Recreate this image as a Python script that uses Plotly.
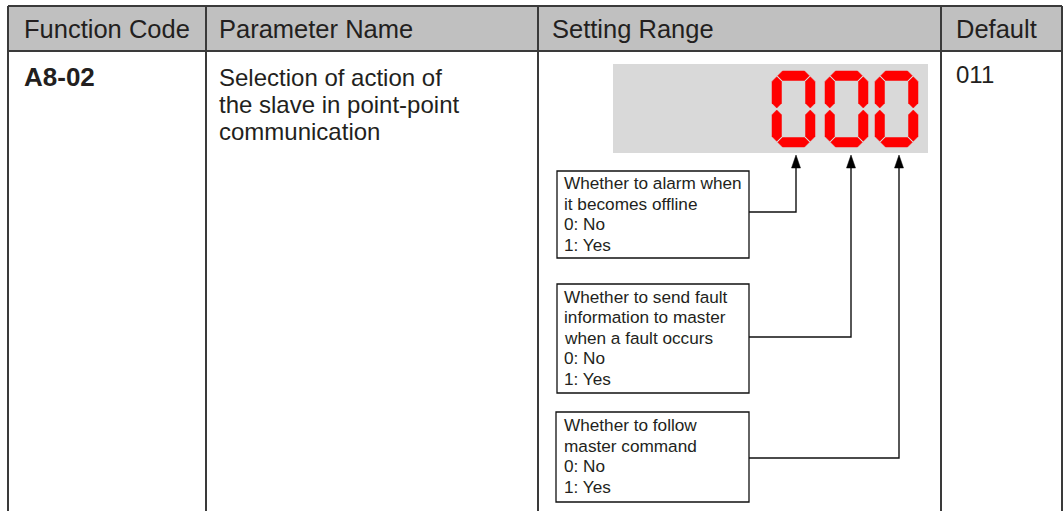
import plotly.graph_objects as go

W, H = 1063, 511

# ---- content ----
headers = ["Function Code", "Parameter Name", "Setting Range", "Default"]
function_code = "A8-02"
param_name_lines = ["Selection of action of", "the slave in point-point", "communication"]
default_value = "011"
display_digits = "000"
box_texts = [
    ["Whether to alarm when", "it becomes offline", "0: No", "1: Yes"],
    ["Whether to send fault", "information to master", "when a fault occurs", "0: No", "1: Yes"],
    ["Whether to follow", "master command", "0: No", "1: Yes"],
]

# ---- layout geometry (styles) ----
col_x = [8, 206, 538, 941, 1062]
top_y, head_y = 6, 51
line_col = "#3a3a3a"
text_col = "#231f20"
font = "Liberation Sans, Arial, sans-serif"

shapes = []
ann = []

# header fill
shapes.append(dict(type="rect", x0=col_x[0], x1=col_x[-1], y0=top_y, y1=head_y,
                   fillcolor="#c0c0c0", line_width=0, layer="below"))
# horizontal lines
for y in (top_y, head_y):
    shapes.append(dict(type="line", x0=col_x[0], x1=col_x[-1], y0=y, y1=y,
                       line=dict(color=line_col, width=2)))
# vertical lines
for x in col_x:
    shapes.append(dict(type="line", x0=x, x1=x, y0=top_y, y1=H + 5,
                       line=dict(color=line_col, width=2)))

# header texts
head_tx = [22, 217, 550, 954]
for t, x in zip(headers, head_tx):
    ann.append(dict(x=x, y=29, text=t, xanchor="left", yanchor="middle",
                    font=dict(size=25.5, color=text_col, family=font)))

ann.append(dict(x=22, y=77, text="<b>%s</b>" % function_code, xanchor="left", yanchor="middle",
                font=dict(size=26, color=text_col, family=font)))
for i, t in enumerate(param_name_lines):
    ann.append(dict(x=217, y=77 + 27 * i, text=t, xanchor="left", yanchor="middle",
                    font=dict(size=24, color=text_col, family=font)))
ann.append(dict(x=954, y=74, text=default_value, xanchor="left", yanchor="middle",
                font=dict(size=24, color=text_col, family=font)))

# display panel
shapes.append(dict(type="rect", x0=613, x1=928, y0=64, y1=153,
                   fillcolor="#d9d9d9", line_width=0, layer="below"))

# seven-seg digits
SEG = {"0": "abcdef", "1": "bc", "2": "abged", "3": "abgcd", "4": "fgbc",
       "5": "afgcd", "6": "afgedc", "7": "abc", "8": "abcdefg", "9": "abcdfg"}
digit_x0 = [772, 825, 875]
dw, y0d, y1d, t, g = 43, 71, 147, 9.5, 1.0


def hseg(xa, xb, y):
    h = t / 2
    return (f"M{xa+g},{y} L{xa+g+h},{y-h} L{xb-g-h},{y-h} L{xb-g},{y} "
            f"L{xb-g-h},{y+h} L{xa+g+h},{y+h} Z")


def vseg(x, ya, yb):
    h = t / 2
    return (f"M{x},{ya+g} L{x+h},{ya+g+h} L{x+h},{yb-g-h} L{x},{yb-g} "
            f"L{x-h},{yb-g-h} L{x-h},{ya+g+h} Z")


for ch, x0 in zip(display_digits, digit_x0):
    x1 = x0 + dw
    xl, xr = x0 + t / 2, x1 - t / 2
    yt, ym, yb = y0d + t / 2, (y0d + y1d) / 2, y1d - t / 2
    segs = {"a": hseg(xl, xr, yt), "g": hseg(xl, xr, ym), "d": hseg(xl, xr, yb),
            "f": vseg(xl, yt, ym), "b": vseg(xr, yt, ym),
            "e": vseg(xl, ym, yb), "c": vseg(xr, ym, yb)}
    for s in SEG[ch]:
        shapes.append(dict(type="path", path=segs[s], fillcolor="#ff0000",
                           line=dict(color="#ff0000", width=0.5)))

# explanation boxes and connectors
boxes = [(557, 749, 171, 258), (557, 749, 284, 393), (556, 749, 412, 502)]
conn_y = [212, 337, 458]
arrow_x = [796, 851, 899]
line_y0 = [183, 297, 425]
line_step = [20.6, 20.4, 20.6]
tip_y = 155
for (bx0, bx1, by0, by1), cy, axp, ly, st, lines in zip(boxes, conn_y, arrow_x, line_y0, line_step, box_texts):
    shapes.append(dict(type="rect", x0=bx0, x1=bx1, y0=by0, y1=by1,
                       line=dict(color="#111111", width=1.3), fillcolor="rgba(0,0,0,0)"))
    shapes.append(dict(type="path", path=f"M{bx1},{cy} L{axp},{cy} L{axp},{tip_y+10}",
                       line=dict(color="#111111", width=1.4)))
    shapes.append(dict(type="path", path=f"M{axp},{tip_y} L{axp+4.5},{tip_y+13} L{axp-4.5},{tip_y+13} Z",
                       fillcolor="#000000", line=dict(color="#000000", width=0.5)))
    for i, tx in enumerate(lines):
        ann.append(dict(x=562, y=ly + st * i, text=tx, xanchor="left", yanchor="middle",
                        font=dict(size=17.2, color=text_col, family=font)))

for a in ann:
    a.update(showarrow=False, xref="x", yref="y")

fig = go.Figure()
fig.update_layout(width=W, height=H, margin=dict(l=0, r=0, t=0, b=0),
                  paper_bgcolor="white", plot_bgcolor="white",
                  shapes=shapes, annotations=ann, showlegend=False)
fig.update_xaxes(range=[0, W], visible=False, fixedrange=True)
fig.update_yaxes(range=[H, 0], visible=False, fixedrange=True)
fig.write_html("out.html", config={"displayModeBar": False},
               post_script="document.body.style.margin='0';document.body.style.overflow='hidden';")
